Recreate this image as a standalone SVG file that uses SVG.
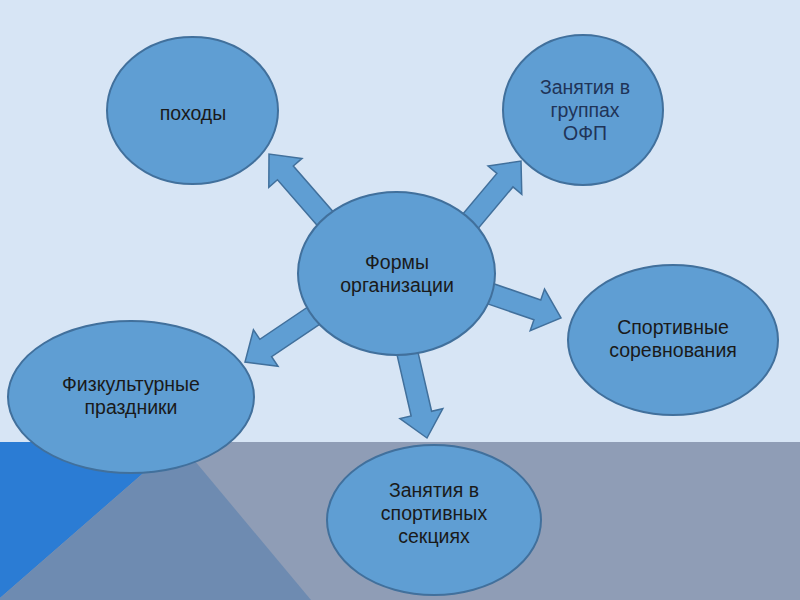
<svg xmlns="http://www.w3.org/2000/svg" width="800" height="600" viewBox="0 0 800 600">
<style>
.node{fill:#5f9ed3;stroke:#41709c;stroke-width:2}
.arr{fill:#5f9ed3;stroke:#41709c;stroke-width:1.5;stroke-linejoin:miter}
text{font-family:"Liberation Sans",Arial,sans-serif;font-size:19.5px;fill:#1a1a1a;text-anchor:middle}
</style>
<defs>
<path id="ba" d="M -90,-10.5 L -25,-10.5 L -25,-22 L 0,0 L -25,22 L -25,10.5 L -90,10.5 Z"/>
</defs>
<rect x="0" y="0" width="800" height="600" fill="#d7e5f5"/>
<rect x="0" y="442" width="800" height="158" fill="#8f9db6"/>
<polygon points="0,442 179,442 0,598" fill="#2b7cd4"/>
<polygon points="179,442 311,600 0,600 0,598" fill="#6e8bb1"/>
<g id="connectors">
<use href="#ba" class="arr" transform="translate(269,154) rotate(-131)"/>
<use href="#ba" class="arr" transform="translate(521,161) rotate(-50)"/>
<use href="#ba" class="arr" transform="translate(561,318) rotate(19)"/>
<use href="#ba" class="arr" transform="translate(245,362) rotate(146)"/>
<use href="#ba" class="arr" transform="translate(427,438) rotate(77)"/>
</g>
<g id="center">
<ellipse class="node" cx="396.5" cy="273.5" rx="98.5" ry="81.5"/>
<text x="397" y="269">Формы</text>
<text x="397" y="292">организации</text>
</g>
<g id="pohody">
<ellipse class="node" cx="192.5" cy="110.5" rx="85.5" ry="73.5"/>
<text x="193" y="120">походы</text>
</g>
<g id="ofp">
<ellipse class="node" cx="583" cy="110" rx="80" ry="75"/>
<text x="585" y="94" style="fill:#1f3458">Занятия в</text>
<text x="585" y="117" style="fill:#1f3458">группах</text>
<text x="585" y="140" style="fill:#1f3458">ОФП</text>
</g>
<g id="sorevnovaniya">
<ellipse class="node" cx="673" cy="340" rx="105" ry="75"/>
<text x="673" y="334">Спортивные</text>
<text x="673" y="357">соревнования</text>
</g>
<g id="prazdniki">
<ellipse class="node" cx="131" cy="397" rx="123" ry="76"/>
<text x="131" y="391">Физкультурные</text>
<text x="131" y="414">праздники</text>
</g>
<g id="sekcii">
<ellipse class="node" cx="434" cy="520" rx="107" ry="75"/>
<text x="434" y="497">Занятия в</text>
<text x="434" y="520">спортивных</text>
<text x="434" y="543">секциях</text>
</g>
</svg>
